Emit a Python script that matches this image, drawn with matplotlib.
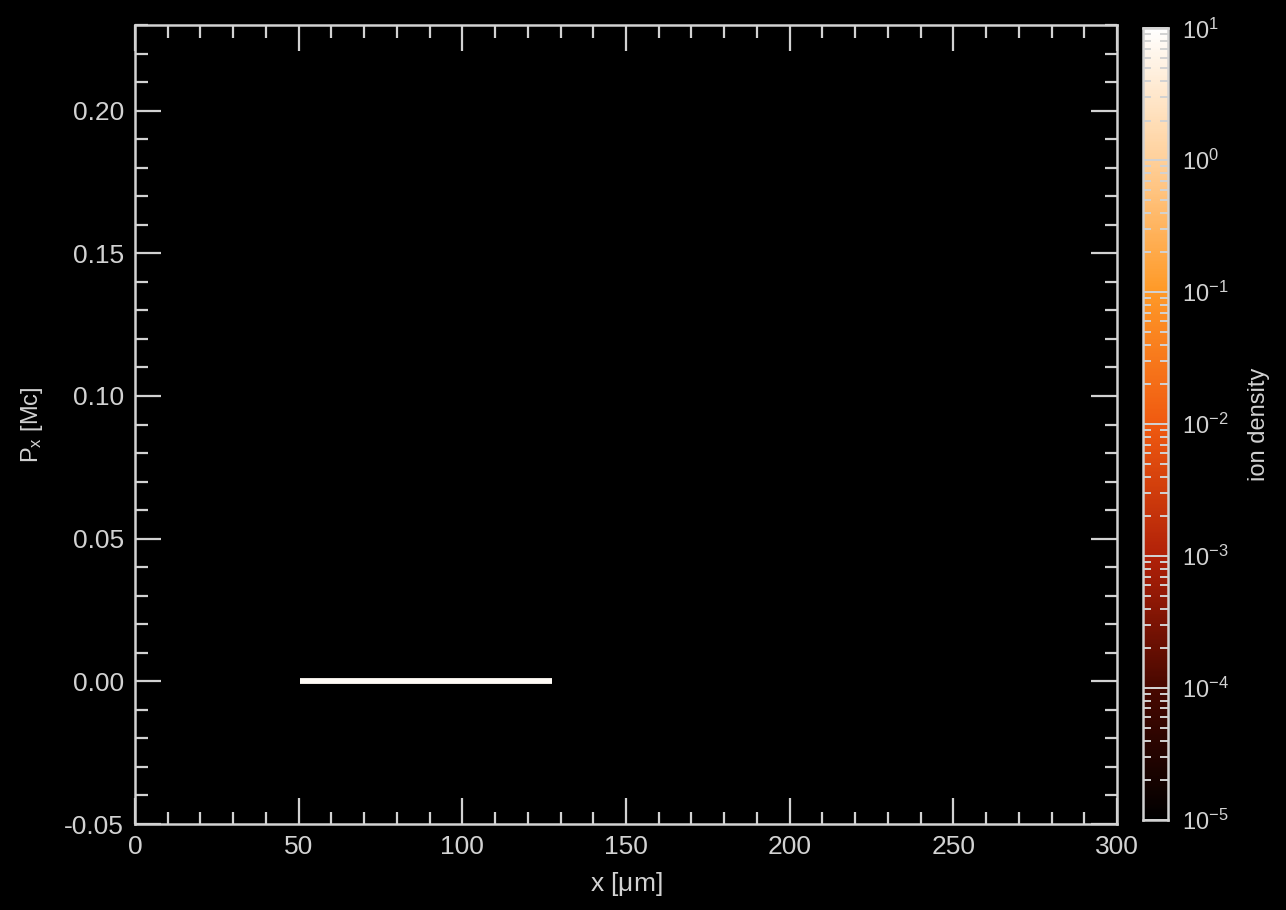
import numpy as np
import matplotlib
matplotlib.use("Agg")
import matplotlib.pyplot as plt
from matplotlib.colors import LinearSegmentedColormap, LogNorm
from matplotlib.ticker import MultipleLocator, LogLocator

# ion slab: x range [um], momentum px [Mc], density (normalised)
x_slab = [50.5, 127.5]
px_slab = [0.0, 0.0]
density_slab = 8.0

xlim = (0, 300)
ylim = (-0.05, 0.23)
xticks = [0, 50, 100, 150, 200, 250, 300]
yticks = [-0.05, 0.00, 0.05, 0.10, 0.15, 0.20]
cb_ticks = [1e-5, 1e-4, 1e-3, 1e-2, 1e-1, 1e0, 1e1]

fg = "#d2d2d2"
plt.rcParams["font.family"] = ["Liberation Sans", "DejaVu Sans"]
plt.rcParams["mathtext.fontset"] = "custom"
plt.rcParams["mathtext.rm"] = "Liberation Sans"
plt.rcParams["mathtext.it"] = "Liberation Sans"

cmap = LinearSegmentedColormap.from_list("heat", [
    (0.0, "#000000"), (0.17, "#4a0800"), (0.33, "#b02008"),
    (0.5, "#f05a10"), (0.67, "#ff9a28"), (0.83, "#ffcf98"), (1.0, "#ffffff")], N=512)
norm = LogNorm(1e-5, 1e1)

fig = plt.figure(figsize=(12.86, 9.10), dpi=100, facecolor="black")
ax = fig.add_axes([0.105, 0.0945, 0.7636, 0.878], facecolor="black")
cax = fig.add_axes([0.8888, 0.0989, 0.0195, 0.870])

ax.plot(x_slab, px_slab, color=cmap(norm(density_slab)), lw=4.2,
        solid_capstyle="butt")
ax.set_xlim(*xlim)
ax.set_ylim(*ylim)
ax.set_xticks(xticks)
ax.set_yticks(yticks)
ax.set_yticklabels([f"{v:.2f}" for v in yticks])
ax.xaxis.set_minor_locator(MultipleLocator(10))
ax.yaxis.set_minor_locator(MultipleLocator(0.01))
ax.tick_params(which="both", direction="in", top=True, right=True,
               colors=fg, labelcolor=fg, labelsize=19, width=1.6)
ax.tick_params(which="major", length=19, pad=8)
ax.tick_params(which="minor", length=9)
for s in ax.spines.values():
    s.set_color(fg)
    s.set_linewidth(1.8)
ax.set_xlabel(r"x [$\mu$m]", color=fg, fontsize=19, labelpad=8)
ax.set_ylabel(r"P$_\mathrm{x}$ [Mc]", color=fg, fontsize=17, labelpad=14)

# colorbar drawn from a fine log-spaced gradient
levels = np.logspace(-5, 1, 600)
grad = np.vstack([levels, levels]).T
cax.pcolormesh([0, 1], levels, grad[:-1, :1], cmap=cmap, norm=norm,
               shading="flat")
cax.set_yscale("log")
cax.set_ylim(1e-5, 1e1)
cax.set_xlim(0, 1)
cax.set_xticks([])
cax.yaxis.tick_right()
cax.set_yticks(cb_ticks)
cax.yaxis.set_minor_locator(LogLocator(base=10, subs=np.arange(2, 10)))
cax.tick_params(which="both", direction="in", left=True, right=True,
                colors=fg, labelcolor=fg, labelsize=17, width=1.4)
cax.tick_params(which="major", length=12, pad=10)
cax.tick_params(which="minor", length=6)
for s in cax.spines.values():
    s.set_color(fg)
    s.set_linewidth(1.8)
cax.yaxis.set_label_position("right")
cax.set_ylabel("ion density", color=fg, fontsize=17, labelpad=14)

fig.savefig("out.png", dpi=100, facecolor="black")
